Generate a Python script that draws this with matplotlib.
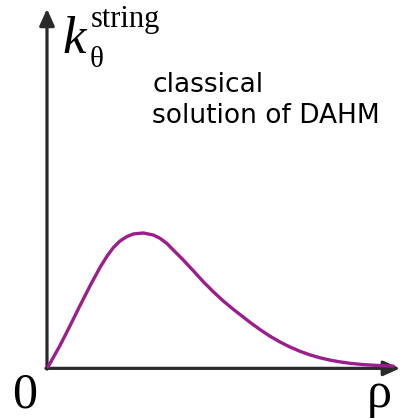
import matplotlib
matplotlib.use("Agg")
import matplotlib.pyplot as plt

# Classical string profile k_theta(rho), in axis units (0..10)
rho = [0.03, 0.368, 0.652, 0.935, 1.218, 1.501, 1.691, 1.878, 2.068, 2.258,
       2.445, 2.728, 3.011, 3.201, 3.391, 3.578, 3.861, 4.144, 4.428, 4.711,
       4.994, 5.278, 5.467, 5.751, 6.034, 6.317, 6.601, 6.884, 7.167, 7.450,
       7.734, 8.017, 8.300, 8.584, 8.960, 9.433, 9.810]
k_theta = [0.03, 0.630, 1.182, 1.748, 2.297, 2.815, 3.118, 3.370, 3.557, 3.678,
           3.754, 3.782, 3.725, 3.633, 3.493, 3.305, 3.025, 2.725, 2.417, 2.137,
           1.877, 1.644, 1.499, 1.280, 1.076, 0.891, 0.728, 0.588, 0.468, 0.367,
           0.286, 0.221, 0.171, 0.132, 0.095, 0.067, 0.053]

CURVE = "#9b1d8e"
AXIS = "#2a2a2a"

fig = plt.figure(figsize=(4.0, 4.19), dpi=100)
ax = fig.add_axes([0, 0, 1, 1])
ax.set_xlim(-1.331, 10.0)
ax.set_ylim(-1.4286, 10.308)
ax.axis("off")

# axes with arrow heads
arrow = dict(arrowstyle="-|>,head_length=1.0,head_width=0.45",
             color=AXIS, lw=2.3, mutation_scale=10, shrinkA=0, shrinkB=0)
ax.annotate("", xy=(0, 10.06), xytext=(0, -0.03), arrowprops=arrow)
ax.annotate("", xy=(10.0, -0.01), xytext=(-0.03, -0.01), arrowprops=arrow)

ax.plot(rho, k_theta, color=CURVE, lw=2.4, solid_capstyle="round",
        solid_joinstyle="round", zorder=3)

serif = "Liberation Serif"
ax.text(0.425, 8.82, "k", family=serif, style="italic", fontsize=38,
        ha="left", va="baseline")
ax.text(1.218, 8.43, "θ", family=serif, fontsize=21, ha="left", va="baseline")
ax.text(1.246, 9.55, "string", family=serif, fontsize=22, ha="left",
        va="baseline")

ax.text(2.975, 7.74, "classical", family="DejaVu Sans", fontsize=19,
        ha="left", va="baseline")
ax.text(2.975, 6.85, "solution of DAHM", family="DejaVu Sans", fontsize=19,
        ha="left", va="baseline")

ax.text(-0.623, -1.1, "0", family=serif, fontsize=36, ha="center",
        va="baseline")
ax.text(9.405, -1.1, "ρ", family=serif, fontsize=36, ha="center",
        va="baseline")

fig.savefig("out.png", dpi=100)
